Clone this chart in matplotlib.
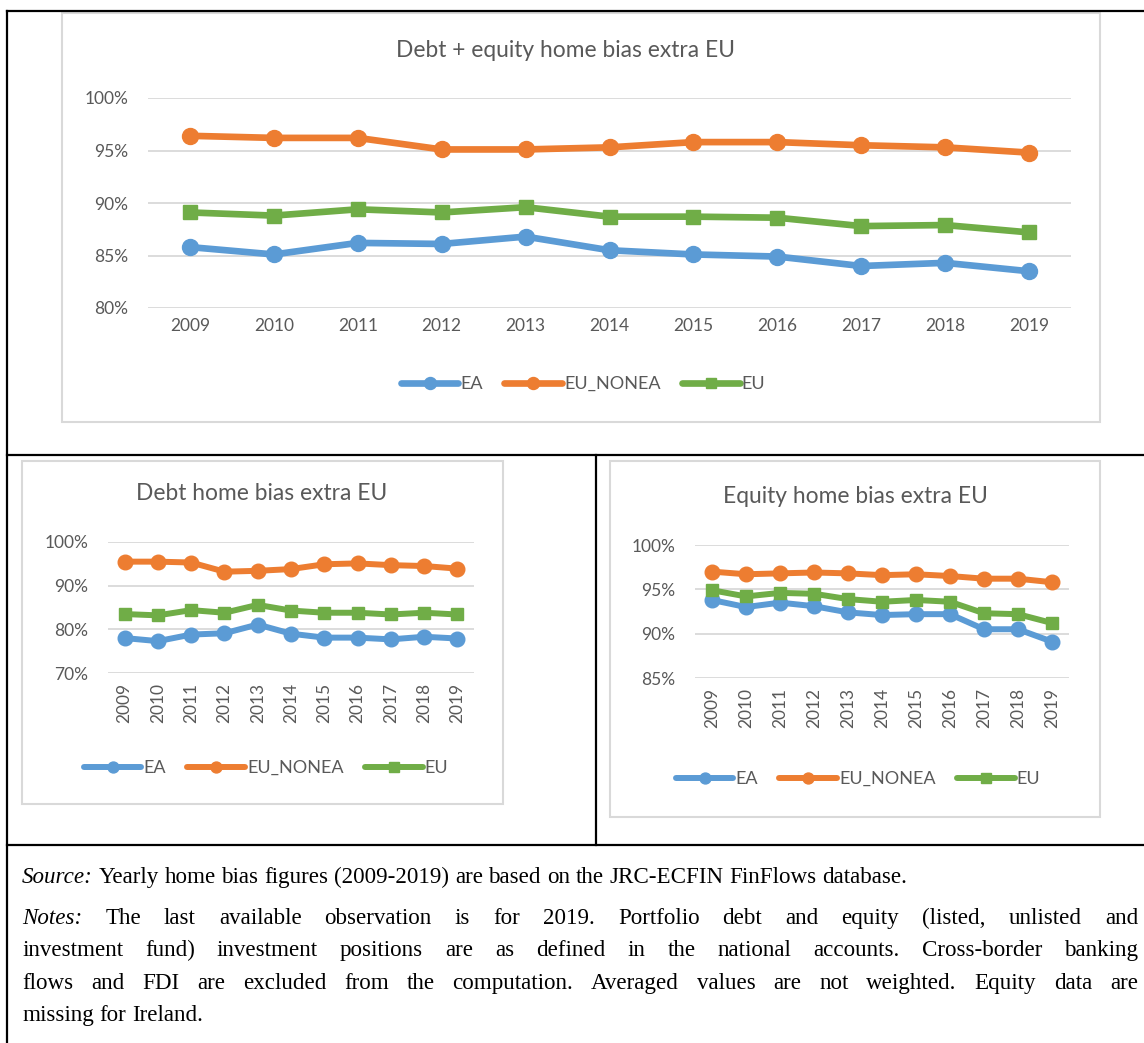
import matplotlib
matplotlib.use("Agg")
import matplotlib.pyplot as plt
from matplotlib.patches import Rectangle
from matplotlib.lines import Line2D
from matplotlib.ticker import FuncFormatter

# data (home bias, %)
years = [2009, 2010, 2011, 2012, 2013, 2014, 2015, 2016, 2017, 2018, 2019]
series_names = ["EA", "EU_NONEA", "EU"]

total_ea = [85.8, 85.1, 86.2, 86.1, 86.8, 85.5, 85.1, 84.9, 84.0, 84.3, 83.5]
total_nonea = [96.4, 96.2, 96.2, 95.1, 95.1, 95.3, 95.8, 95.8, 95.5, 95.3, 94.8]
total_eu = [89.1, 88.8, 89.4, 89.1, 89.6, 88.7, 88.7, 88.6, 87.8, 87.9, 87.2]

debt_ea = [78.0, 77.3, 78.8, 79.1, 81.1, 79.0, 78.1, 78.1, 77.7, 78.3, 77.9]
debt_nonea = [95.5, 95.5, 95.3, 93.2, 93.4, 93.8, 94.9, 95.1, 94.7, 94.5, 93.9]
debt_eu = [83.5, 83.2, 84.4, 83.8, 85.6, 84.3, 83.8, 83.8, 83.4, 83.8, 83.4]

equity_ea = [93.8, 93.0, 93.5, 93.1, 92.4, 92.1, 92.2, 92.2, 90.5, 90.5, 89.1]
equity_nonea = [97.0, 96.7, 96.8, 96.9, 96.8, 96.6, 96.7, 96.5, 96.2, 96.2, 95.8]
equity_eu = [94.9, 94.2, 94.6, 94.5, 93.9, 93.6, 93.8, 93.6, 92.3, 92.2, 91.2]

source_text = "Yearly home bias figures (2009-2019) are based on the JRC-ECFIN FinFlows database."
notes_lines = [
    "The last available observation is for 2019. Portfolio debt and equity (listed, unlisted and",
    "investment fund) investment positions are as defined in the national accounts. Cross-border banking",
    "flows and FDI are excluded from the computation. Averaged values are not weighted. Equity data are",
    "missing for Ireland.",
]

W, H = 1144, 1043
COLORS = ["#5B9BD5", "#ED7D31", "#70AD47"]
MARKERS = ["o", "o", "s"]
GREY = "#595959"
CHART_FONT = "Lato"
TEXT_FONT = "Liberation Serif"
TEXT_SIZE = 16.6


def fx(px):
    return px / W


def fy(py):
    return 1 - py / H


def pct(x, pos):
    return f"{int(round(x))}%"


def draw_chart(fig, box, frame, title, title_pos, legend_pos, data, ylim, yticks,
               rotate=False, lw=4.2, ms=10):
    x0, y0, x1, y1 = box
    ax = fig.add_axes([fx(x0), fy(y1), fx(x1 - x0), (y1 - y0) / H])
    xs = list(range(len(years)))
    handles = []
    for vals, name, c, m in zip(data, series_names, COLORS, MARKERS):
        msz = ms if m == "o" else ms * 0.85
        h, = ax.plot(xs, vals, color=c, lw=lw, marker=m, ms=msz,
                     solid_capstyle="round", label=name, zorder=3)
        handles.append(h)
    ax.set_xlim(-0.5, len(years) - 0.5)
    ax.set_ylim(*ylim)
    ax.set_yticks(yticks)
    ax.yaxis.set_major_formatter(FuncFormatter(pct))
    ax.set_xticks(xs)
    ax.set_xticklabels([str(y) for y in years], rotation=90 if rotate else 0)
    ax.grid(axis="y", color="#D9D9D9", lw=1.3)
    ax.set_axisbelow(True)
    for s in ax.spines.values():
        s.set_visible(False)
    ax.tick_params(length=0, colors=GREY, labelsize=12.5, pad=7)
    ax.tick_params(axis="y", pad=14)
    for lab in ax.get_xticklabels() + ax.get_yticklabels():
        lab.set_fontfamily(CHART_FONT)
    ax.patch.set_alpha(0)

    fig.text(fx(title_pos[0]), fy(title_pos[1]), title, ha="center", va="center",
             fontsize=16.4, color=GREY, family=CHART_FONT)
    fig.legend(handles=handles, loc="center", ncol=3, frameon=False,
               bbox_to_anchor=(fx(legend_pos[0]), fy(legend_pos[1])),
               handlelength=3.2, handletextpad=0.1, columnspacing=1.2,
               markerscale=0.75,
               prop={"family": CHART_FONT, "size": 13}, labelcolor=GREY)

    fx0, fy0, fx1, fy1 = frame
    fig.add_artist(Rectangle((fx(fx0), fy(fy1)), fx(fx1 - fx0), (fy1 - fy0) / H,
                             transform=fig.transFigure, fill=False,
                             ec="#D9D9D9", lw=1.5, zorder=0))
    return ax


def text_line(fig, renderer, words, x_left, x_right, y, italic_first=False,
              justify=True, size=TEXT_SIZE):
    arts = []
    for i, w in enumerate(words):
        style = "italic" if (italic_first and i == 0) else "normal"
        t = fig.text(0, fy(y), w, ha="left", va="baseline", fontsize=size,
                     family=TEXT_FONT, style=style, color="black")
        arts.append(t)
    widths = [a.get_window_extent(renderer).width for a in arts]
    space = fig.text(0, 0, "a b", fontsize=size, family=TEXT_FONT)
    ab = fig.text(0, 0, "ab", fontsize=size, family=TEXT_FONT)
    sp = space.get_window_extent(renderer).width - ab.get_window_extent(renderer).width
    space.remove()
    ab.remove()
    if justify and len(words) > 1:
        gap = (x_right - x_left - sum(widths)) / (len(words) - 1)
    else:
        gap = sp
    x = x_left
    for a, w in zip(arts, widths):
        a.set_x(fx(x))
        x += w + gap


def main():
    fig = plt.figure(figsize=(W / 100, H / 100), dpi=100)
    fig.patch.set_facecolor("white")

    # table borders
    for (xa, ya, xb, yb) in [(7, 11, 1150, 11), (7, 11, 7, 1050), (7, 455, 1150, 455),
                             (7, 845, 1150, 845), (596, 455, 596, 845)]:
        fig.add_artist(Line2D([fx(xa), fx(xb)], [fy(ya), fy(yb)], color="black",
                              lw=1.6, transform=fig.transFigure))

    draw_chart(fig, (148, 98, 1071, 308), (62, 13, 1100, 422),
               "Debt + equity home bias extra EU", (566, 50), (583, 384),
               [total_ea, total_nonea, total_eu], (80, 100), [80, 85, 90, 95, 100],
               lw=4.8, ms=11.5)

    draw_chart(fig, (108, 542, 474, 673), (22, 461, 503, 804),
               "Debt home bias extra EU", (262, 494), (266, 768),
               [debt_ea, debt_nonea, debt_eu], (70, 100), [70, 80, 90, 100],
               rotate=True, lw=4.3, ms=10.5)

    draw_chart(fig, (695, 545, 1069, 678), (610, 461, 1100, 817),
               "Equity home bias extra EU", (855, 496), (858, 779),
               [equity_ea, equity_nonea, equity_eu], (85, 100), [85, 90, 95, 100],
               rotate=True, lw=4.3, ms=10.5)

    renderer = fig.canvas.get_renderer()
    text_line(fig, renderer, ["Source:"] + source_text.split(), 22, 1138, 883,
              italic_first=True, justify=False)
    ys = [924, 956, 989, 1021]
    for i, (line, y) in enumerate(zip(notes_lines, ys)):
        words = line.split()
        if i == 0:
            words = ["Notes:"] + words
        text_line(fig, renderer, words, 22, 1138, y, italic_first=(i == 0),
                  justify=(i < len(notes_lines) - 1))

    fig.savefig("out.png", dpi=100)


if __name__ == "__main__":
    main()
